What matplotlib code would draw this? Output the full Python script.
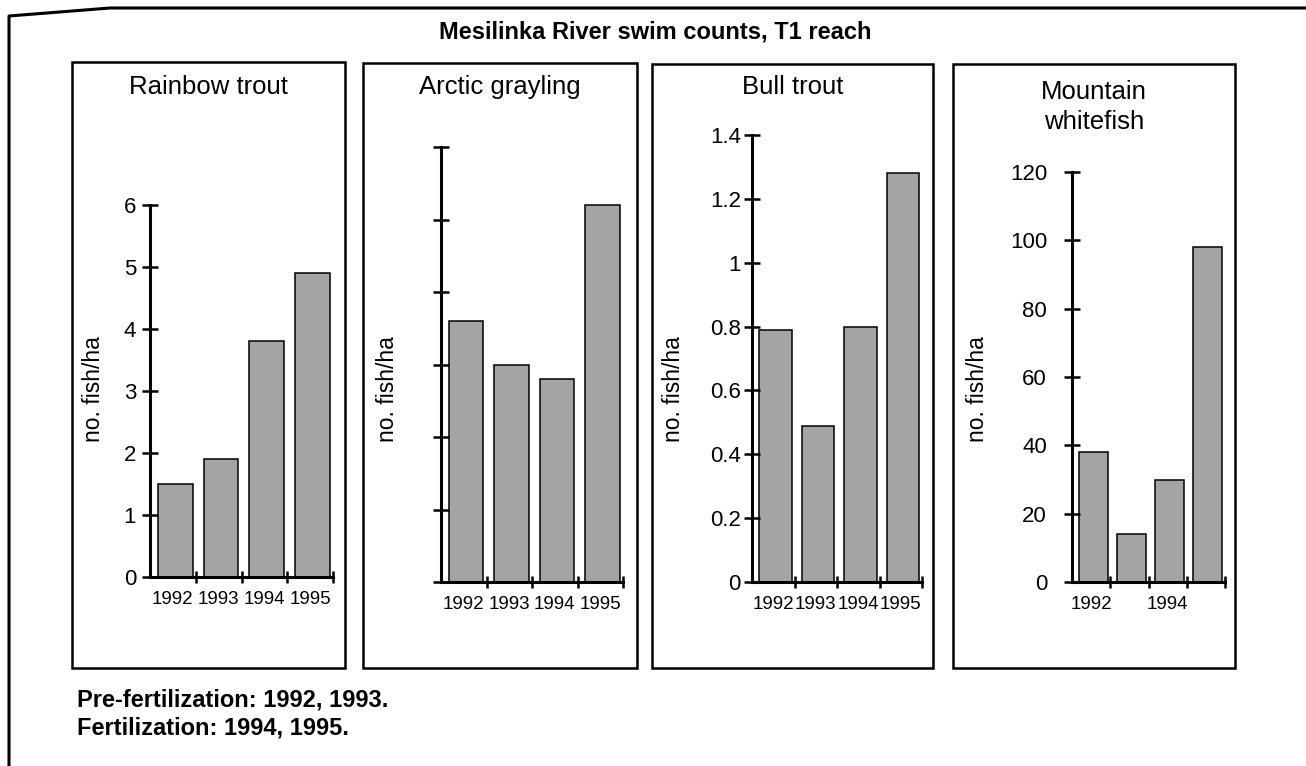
import matplotlib.pyplot as plt
from matplotlib.patches import Rectangle
from matplotlib.lines import Line2D

plt.rcParams['font.family'] = ['Liberation Sans', 'DejaVu Sans']

# data
years = ['1992', '1993', '1994', '1995']
rainbow = [1.5, 1.9, 3.8, 4.9]
grayling = [3.6, 3.0, 2.8, 5.2]
bull = [0.79, 0.49, 0.80, 1.28]
whitefish = [38, 14, 30, 98]

W, H = 1306, 766
fig = plt.figure(figsize=(W / 100, H / 100), dpi=100)


def px_axes(l, r, t, b):
    return fig.add_axes([l / W, 1 - b / H, (r - l) / W, (b - t) / H])


def px_box(l, r, t, b):
    fig.patches.append(Rectangle((l / W, 1 - b / H), (r - l) / W, (b - t) / H,
                                 transform=fig.transFigure, fill=False,
                                 edgecolor='black', linewidth=1.8))


# page frame (top rule + left rule)
fig.add_artist(Line2D([9 / W, 9 / W, 110 / W, 1.0],
                      [0.0, 1 - 16 / H, 1 - 8 / H, 1 - 8 / H],
                      transform=fig.transFigure, color='black', linewidth=2.2))

fig.text(655 / W, 1 - 38 / H, 'Mesilinka River swim counts, T1 reach',
         ha='center', va='baseline', fontsize=17, fontweight='bold')

panels = [
    # name, values, yticks, ticklabels, box, axes, ylabel x, label pad, year labels
    ('Rainbow trout', rainbow, [0, 1, 2, 3, 4, 5, 6], ['0', '1', '2', '3', '4', '5', '6'],
     (72, 345, 62, 668), (150, 333, 205, 577), 93, 4, years),
    ('Arctic grayling', grayling, [0, 1, 2, 3, 4, 5, 6], [],
     (363, 637, 63, 668), (441, 623, 147, 582), 388, 4, years),
    ('Bull trout', bull, [0, 0.2, 0.4, 0.6, 0.8, 1.0, 1.2, 1.4],
     ['0', '0.2', '0.4', '0.6', '0.8', '1', '1.2', '1.4'],
     (652, 933, 64, 668), (752, 922, 135, 582), 674, 2, years),
    ('Mountain\nwhitefish', whitefish, [0, 20, 40, 60, 80, 100, 120],
     ['0', '20', '40', '60', '80', '100', '120'],
     (953, 1235, 64, 668), (1072, 1225, 172, 582), 977, 12, ['1992', '', '1994', '']),
]

for name, vals, yt, ytl, box, axpos, ylx, ypad, xlabs in panels:
    px_box(*box)
    ax = px_axes(*axpos)
    x = [i + 0.55 for i in range(len(vals))]
    ax.bar(x, vals, width=0.76, color='#a4a4a4', edgecolor='black', linewidth=1.1)
    ax.set_xlim(0, 4)
    ax.set_ylim(0, yt[-1])
    for s in ['top', 'right']:
        ax.spines[s].set_visible(False)
    for s in ['left', 'bottom']:
        ax.spines[s].set_linewidth(2.2)
    ax.set_yticks(yt)
    ax.set_yticklabels(ytl if ytl else [''] * len(yt))
    ax.tick_params(axis='y', direction='inout', length=12, width=1.8,
                   labelsize=16, pad=ypad)
    ax.set_xticks([1, 2, 3, 4])
    ax.set_xticklabels([])
    ax.set_xticks([i + 0.5 for i in range(4)], minor=True)
    ax.set_xticklabels(xlabs, minor=True)
    ax.tick_params(axis='x', which='major', direction='inout', length=8, width=1.8)
    ax.tick_params(axis='x', which='minor', length=0, labelsize=13.5, pad=10)
    ax.patch.set_alpha(0)

    cx = (box[0] + box[1]) / 2
    if '\n' in name:
        l1, l2 = name.split('\n')
        fig.text(cx / W, 1 - 99 / H, l1, ha='center', va='baseline', fontsize=18.5)
        fig.text(cx / W, 1 - 129 / H, l2, ha='center', va='baseline', fontsize=18.5)
    else:
        fig.text(cx / W, 1 - 94 / H, name, ha='center', va='baseline', fontsize=18.5)
    fig.text(ylx / W, 1 - 389 / H, 'no. fish/ha', rotation=90,
             ha='center', va='center', fontsize=16.5)

fig.text(77 / W, 1 - 707 / H, 'Pre-fertilization: 1992, 1993.',
         ha='left', va='baseline', fontsize=17, fontweight='bold')
fig.text(77 / W, 1 - 735 / H, 'Fertilization: 1994, 1995.',
         ha='left', va='baseline', fontsize=17, fontweight='bold')

fig.savefig('out.png', dpi=100)
